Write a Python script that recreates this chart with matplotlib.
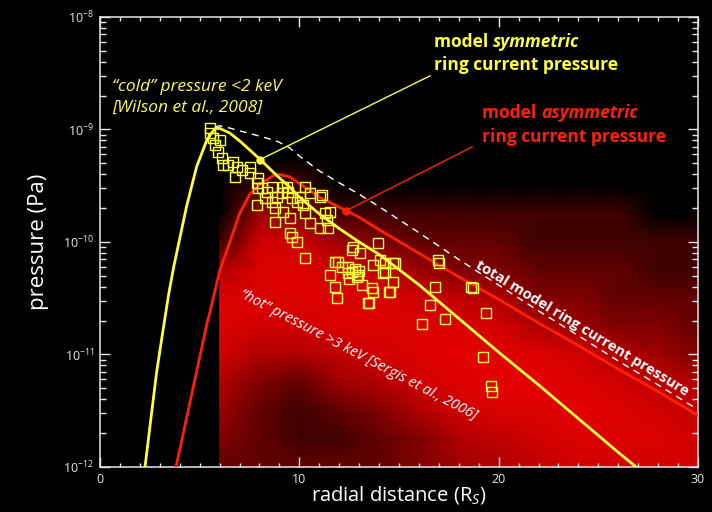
import matplotlib
matplotlib.use("Agg")
import matplotlib.pyplot as plt
import numpy as np
from matplotlib.colors import LinearSegmentedColormap
from matplotlib.ticker import MultipleLocator, LogLocator, NullFormatter

FONT = "Open Sans"
plt.rcParams["font.family"] = [FONT, "DejaVu Sans"]
plt.rcParams["mathtext.fontset"] = "custom"
plt.rcParams["mathtext.rm"] = FONT
plt.rcParams["mathtext.it"] = FONT + ":italic"

YELLOW = "#ffff3c"
RED = "#ff2000"

# model curves: radial distance (R_S) and log10 pressure (Pa)
model_r = [2.0, 2.26, 2.5, 2.84, 3.15, 3.45, 3.7, 3.81, 4.0, 4.35, 4.85, 5.35, 5.6, 5.8, 6.0,
           6.5, 7.0, 7.5, 8.0, 8.7, 9.0, 9.5, 10.0, 11.0, 12.0, 13.0, 14.0, 16.0, 18.0, 20.0,
           22.0, 24.0, 26.0, 28.0, 30.0]
sym_log10p = [-12.38, -12.0, -11.65, -11.16, -10.80, -10.46, -10.22, -10.13, -9.97, -9.68,
              -9.33, -9.10, -9.03, -8.99, -8.99, -9.03, -9.10, -9.18, -9.26, -9.38, -9.43,
              -9.51, -9.60, -9.75, -9.88, -10.0, -10.11, -10.38, -10.68, -10.98, -11.27,
              -11.57, -11.87, -12.16, -12.46]
asym_log10p = [np.nan, np.nan, np.nan, np.nan, np.nan, np.nan, np.nan, -12.0, -11.85, -11.56,
               -11.15, -10.74, -10.56, -10.41, -10.26, -10.01, -9.75, -9.58, -9.49, -9.41,
               -9.40, -9.42, -9.48, -9.60, -9.69, -9.78, -9.89, -10.10, -10.31, -10.51,
               -10.72, -10.92, -11.13, -11.33, -11.54]
total_from_r = 5.8

y_ticks = [1e-12, 1e-11, 1e-10, 1e-9, 1e-8]
x_ticks = [0, 10, 20, 30]

# "cold" pressure points (Wilson et al. 2008): R_S and pressure in 1e-10 Pa
cold_r = [5.52, 5.52, 5.67, 5.77, 5.92, 6.02, 6.12, 6.17, 6.42, 6.67, 6.87, 6.77, 7.12, 7.53,
          7.53, 7.93, 7.88, 8.13, 8.38, 8.63, 8.28, 8.63, 9.18, 9.43, 8.78, 9.18, 9.63, 10.04,
          10.19, 9.53, 7.93, 8.88, 9.13, 9.88, 10.29, 7.88, 8.78, 9.53, 9.88, 10.29, 10.54,
          11.04, 11.44, 11.29, 11.54, 10.29, 10.54, 11.04, 9.38, 11.14, 11.39, 9.63,
          12.69, 13.95, 12.64, 13.05, 11.79, 12.14, 11.54, 12.44, 12.95, 13.7, 14.2, 14.8,
          11.79, 11.89, 13.15, 13.65, 14.55, 14.7, 13.45, 14.05, 13.7, 13.5, 14.3, 14.7,
          14.3, 14.5, 11.94, 12.9, 12.44, 12.64, 13.0, 12.5, 12.8,
          16.96, 17.01, 16.81, 18.62, 18.72, 16.56, 17.31, 16.16, 19.37, 19.22, 19.62, 19.67]
cold_p = [10.3, 9.31, 8.40, 7.28, 6.31, 8.07, 5.58, 4.83, 4.83, 5.14, 4.64, 3.78, 4.37, 4.64,
          4.10, 3.71, 3.35, 3.02, 2.78, 3.08, 2.46, 2.27, 3.08, 2.78, 2.00, 1.85, 2.46, 2.51,
          2.13, 1.63, 3.02, 2.51, 2.73, 2.27, 1.81, 2.13, 1.51, 1.20, 1.00, 0.72, 1.48,
          1.33, 1.33, 1.81, 1.85, 3.08, 2.73, 2.51, 3.08, 2.60, 1.58, 1.10,
          0.90, 0.98, 0.85, 0.80, 0.66, 0.60, 0.51, 0.53, 0.51, 0.625, 0.53, 0.65,
          0.40, 0.32, 0.415, 0.39, 0.36, 0.44, 0.287, 0.69, 0.36, 0.287, 0.65, 0.65,
          0.54, 0.36, 0.66, 0.49, 0.60, 0.54, 0.55, 0.47, 0.58,
          0.69, 0.65, 0.40, 0.40, 0.39, 0.275, 0.207, 0.187, 0.234, 0.095, 0.052, 0.046]

# "hot" pressure cloud (Sergis et al. 2006): relative point density (0-9)
cloud_r = [6, 8, 10, 12, 14, 16, 18, 20, 22, 24, 26, 28, 30]
cloud_log10p = [-9.0, -9.25, -9.5, -9.75, -10.0, -10.25, -10.5, -10.75, -11.0, -11.25,
                -11.5, -11.75, -12.0]
cloud_density = [
    [0, 0, 0, 0, 0, 0, 0, 0, 0, 0, 0, 0, 0],
    [0, 0, 0, 0, 0, 0, 0, 0, 0, 0, 0, 0, 0],
    [0, 1, 1, 0, 0, 0, 0, 0, 0, 0, 0, 0, 0],
    [0, 4, 3, 1, 1, 1, 1, 1, 1, 1, 1, 0, 0],
    [1, 7, 7, 4, 3, 2, 2, 2, 1, 1, 1, 1, 1],
    [5, 8, 8, 7, 6, 4, 3, 3, 2, 2, 2, 1, 1],
    [8, 8, 8, 8, 8, 7, 6, 5, 3, 3, 2, 2, 2],
    [8, 7, 7, 8, 8, 8, 8, 7, 5, 4, 3, 3, 2],
    [7, 5, 5, 6, 7, 8, 9, 9, 8, 7, 5, 4, 3],
    [5, 3, 2, 4, 5, 7, 8, 9, 9, 8, 7, 6, 5],
    [4, 2, 1, 2, 3, 5, 7, 8, 8, 9, 8, 7, 6],
    [3, 2, 1, 1, 2, 3, 5, 6, 7, 8, 8, 8, 7],
    [2, 2, 2, 2, 2, 3, 4, 5, 6, 7, 7, 7, 7],
]

r = np.array(model_r)
p_sym = 10 ** np.array(sym_log10p)
p_asym = 10 ** np.array(asym_log10p)
tot = r >= total_from_r
p_tot = p_sym[tot] + p_asym[tot]

fig = plt.figure(figsize=(7.12, 5.12), dpi=100, facecolor="black")
ax = fig.add_axes([0.1404, 0.0879, 0.8399, 0.8789], facecolor="black")

cmap = LinearSegmentedColormap.from_list(
    "cloud", [(0, "black"), (0.12, "#460000"), (0.45, "#a00000"), (0.8, "#d40000"), (1, "#e40000")])
X, Y = np.meshgrid(cloud_r, 10 ** np.array(cloud_log10p))
ax.pcolormesh(X, Y, np.array(cloud_density, float), shading="gouraud", cmap=cmap,
              vmin=0, vmax=9, zorder=1)

ax.plot(r[tot], p_tot, color="white", lw=1.0, ls=(0, (5, 4)), zorder=3)
ax.plot(r, p_asym, color=RED, lw=2.0, zorder=3)
ax.plot(np.array(cold_r), np.array(cold_p) * 1e-10, ls="none", marker="s", ms=7,
        mfc="none", mec=YELLOW, mew=1.0, zorder=4)
ax.plot(r, p_sym, color=YELLOW, lw=2.0, zorder=5)

# leader lines to the model labels
ax.plot([8.03, 16.56], [5.4e-10, 3.0e-9], color=YELLOW, lw=1.0, zorder=5)
ax.plot([8.03], [5.4e-10], "o", color=YELLOW, ms=5, zorder=6)
ax.plot([12.35, 18.67], [1.9e-10, 7.0e-10], color=RED, lw=1.0, zorder=5)
ax.plot([12.35], [1.9e-10], "o", color=RED, ms=5, zorder=6)

ax.set_xlim(0, 30)
ax.set_yscale("log")
ax.set_ylim(1e-12, 1e-8)
ax.set_xticks(x_ticks)
ax.set_yticks(y_ticks)
ax.xaxis.set_minor_locator(MultipleLocator(1))
ax.xaxis.set_minor_formatter(NullFormatter())
ax.yaxis.set_minor_locator(LogLocator(base=10, subs=np.arange(2, 10), numticks=10))
ax.yaxis.set_minor_formatter(NullFormatter())
ax.tick_params(which="both", direction="in", top=True, right=True, colors="#e8e8e8",
               labelsize=9, width=1.0, pad=4)
ax.tick_params(axis="y", which="major", length=7)
ax.tick_params(axis="y", which="minor", length=4.5)
ax.tick_params(axis="x", which="major", length=7)
ax.tick_params(axis="x", which="minor", length=3)
for s in ax.spines.values():
    s.set_color("#e8e8e8")
    s.set_linewidth(1.1)

ax.set_xlabel("radial distance (R$_S$)", color="white", fontsize=14.5)
ax.set_ylabel("pressure (Pa)", color="white", fontsize=16)
ax.xaxis.set_label_coords(0.5, -0.037)
ax.yaxis.set_label_coords(-0.085, 0.5)

# labels
t = ax.text(0.5585, 0.944, "model ", color=YELLOW, fontsize=12.5, fontweight="bold",
            transform=ax.transAxes, va="center", zorder=7)
ax.annotate("symmetric", xy=(1, 0), xycoords=t, va="bottom", color=YELLOW, fontsize=12.5,
            fontweight="bold", fontstyle="italic", zorder=7)
ax.text(0.5585, 0.893, "ring current pressure", color=YELLOW, fontsize=12.5,
        fontweight="bold", transform=ax.transAxes, va="center", zorder=7)

t = ax.text(0.639, 0.787, "model ", color=RED, fontsize=12.5, fontweight="bold",
            transform=ax.transAxes, va="center", zorder=7)
ax.annotate("asymmetric", xy=(1, 0), xycoords=t, va="bottom", color=RED, fontsize=12.5,
            fontweight="bold", fontstyle="italic", zorder=7)
ax.text(0.639, 0.733, "ring current pressure", color=RED, fontsize=12.5,
        fontweight="bold", transform=ax.transAxes, va="center", zorder=7)

ax.text(0.02, 0.844, "\u201ccold\u201d pressure <2 keV", color=YELLOW, fontsize=12.5,
        fontstyle="italic", transform=ax.transAxes, va="center", zorder=7)
ax.text(0.02, 0.798, "[Wilson et al., 2008]", color=YELLOW, fontsize=12.5,
        fontstyle="italic", transform=ax.transAxes, va="center", zorder=7)

ax.text(0.806, 0.309, "total model ring current pressure", color="white", fontsize=10.7,
        fontweight="bold", rotation=-31.4, rotation_mode="anchor", ha="center", va="center",
        transform=ax.transAxes, zorder=7)
ax.text(0.431, 0.249, "\u201chot\u201d pressure >3 keV [Sergis et al., 2006]", color="white",
        fontsize=10.6, fontstyle="italic", rotation=-27.6, rotation_mode="anchor",
        ha="center", va="center", transform=ax.transAxes, zorder=7)

fig.savefig("out.png", dpi=100, facecolor="black")
